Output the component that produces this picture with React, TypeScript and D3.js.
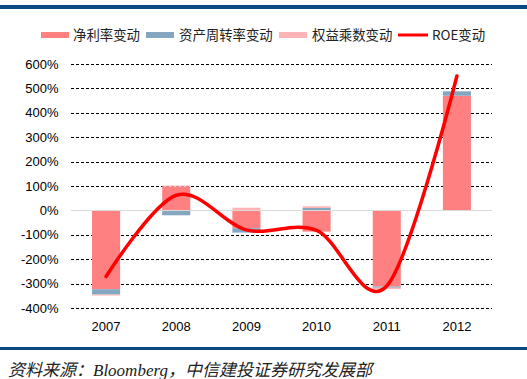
import React from "react";
import * as d3 from "d3";

const years = ["2007", "2008", "2009", "2010", "2011", "2012"];
const netMargin = [-323, 97, -73, -87, -312, 470];
const assetTurnover = [-22, -20, -18, 10, -5, 18];
const equityMult = [-4, 5, 11, 7, -5, 0];
const roe = [-271, 62, -80, -82, -310, 551];
const yTicks = [-400, -300, -200, -100, 0, 100, 200, 300, 400, 500, 600];
const seriesNames = ["净利率变动", "资产周转率变动", "权益乘数变动"];
const lineName = "ROE变动";
const colors = ["#ff8080", "#84a6c0", "#ffb5b5"];
const lineColor = "#ff0000";

const W = 527;
const H = 379;
const plot = { left: 71, right: 492, top: 64, bottom: 308 };

export default function App() {
  const x = d3
    .scaleBand<string>()
    .domain(years)
    .range([plot.left, plot.right])
    .paddingInner(0.6)
    .paddingOuter(0.3);
  const y = d3.scaleLinear().domain([-400, 600]).range([plot.bottom, plot.top]);

  const rows = years.map((yr, i) => ({
    year: yr,
    a: netMargin[i],
    b: assetTurnover[i],
    c: equityMult[i],
  }));
  const stack = d3
    .stack<any>()
    .keys(["a", "b", "c"])
    .offset(d3.stackOffsetDiverging);
  const stacked = stack(rows);

  const line = d3
    .line<number>()
    .x((_, i) => (x(years[i]) as number) + x.bandwidth() / 2)
    .y((d) => y(d))
    .curve(d3.curveCardinal.tension(0));

  const sans = "'Liberation Sans', Arial, sans-serif";
  const cjk = "'Noto Sans CJK SC', sans-serif";

  const legendItems = [
    { sx: 41, tx: 73, label: seriesNames[0], color: colors[0], type: "rect" },
    { sx: 146, tx: 179, label: seriesNames[1], color: colors[1], type: "rect" },
    { sx: 279, tx: 312, label: seriesNames[2], color: colors[2], type: "rect" },
    { sx: 398, tx: 432, label: lineName, color: lineColor, type: "line" },
  ];

  return (
    <svg width={W} height={H} style={{ position: "absolute", left: 0, top: 0 }}>
      <rect x={0} y={0} width={W} height={H} fill="#fff" />
      <rect x={0} y={5} width={W} height={4} fill="#0b4a7e" />
      <rect x={0} y={347} width={W} height={3} fill="#0b4a7e" />

      {/* legend */}
      {legendItems.map((it, i) => (
        <g key={i}>
          {it.type === "rect" ? (
            <rect x={it.sx} y={32} width={28} height={6} fill={it.color} />
          ) : (
            <line x1={it.sx} x2={it.sx + 30} y1={35} y2={35} stroke={it.color} strokeWidth={3} />
          )}
          <text x={it.tx} y={40} fontSize={13.4} fontFamily={cjk} fill="#222">
            {it.label}
          </text>
        </g>
      ))}

      {/* grid */}
      {yTicks.map((t) => (
        <g key={t}>
          {t !== 0 && (
            <line
              x1={plot.left}
              x2={plot.right}
              y1={Math.round(y(t)) + 0.5}
              y2={Math.round(y(t)) + 0.5}
              stroke="#000"
              strokeWidth={1}
              strokeDasharray="3,2"
            />
          )}
          <text
            x={58.5}
            y={y(t) + 4.5}
            textAnchor="end"
            fontSize={13}
            fontFamily={sans}
            fill="#000"
          >
            {t + "%"}
          </text>
        </g>
      ))}

      {/* bars */}
      {stacked.map((s, si) => (
        <g key={si}>
          {s.map((d, i) => {
            const y0 = y(d[0]);
            const y1 = y(d[1]);
            return (
              <rect
                key={i}
                x={x(years[i])}
                width={x.bandwidth()}
                y={Math.min(y0, y1)}
                height={Math.abs(y1 - y0)}
                fill={colors[si]}
              />
            );
          })}
        </g>
      ))}

      {/* zero line */}
      <line
        x1={plot.left}
        x2={plot.right}
        y1={Math.round(y(0)) + 0.5}
        y2={Math.round(y(0)) + 0.5}
        stroke="#d9d9d9"
        strokeWidth={1}
      />

      {/* ROE line */}
      <path d={line(roe) || ""} fill="none" stroke={lineColor} strokeWidth={3.5} strokeLinecap="round" />

      {/* x labels */}
      {years.map((yr) => (
        <text
          key={yr}
          x={(x(yr) as number) + x.bandwidth() / 2}
          y={331}
          textAnchor="middle"
          fontSize={13}
          fontFamily={sans}
          fill="#000"
        >
          {yr}
        </text>
      ))}

      <text x={8} y={375.5} fontSize={17} fontStyle="italic" fontFamily="'Liberation Serif', 'Noto Sans CJK SC', serif" fill="#222">
        资料来源：Bloomberg，中信建投证券研究发展部
      </text>
    </svg>
  );
}
